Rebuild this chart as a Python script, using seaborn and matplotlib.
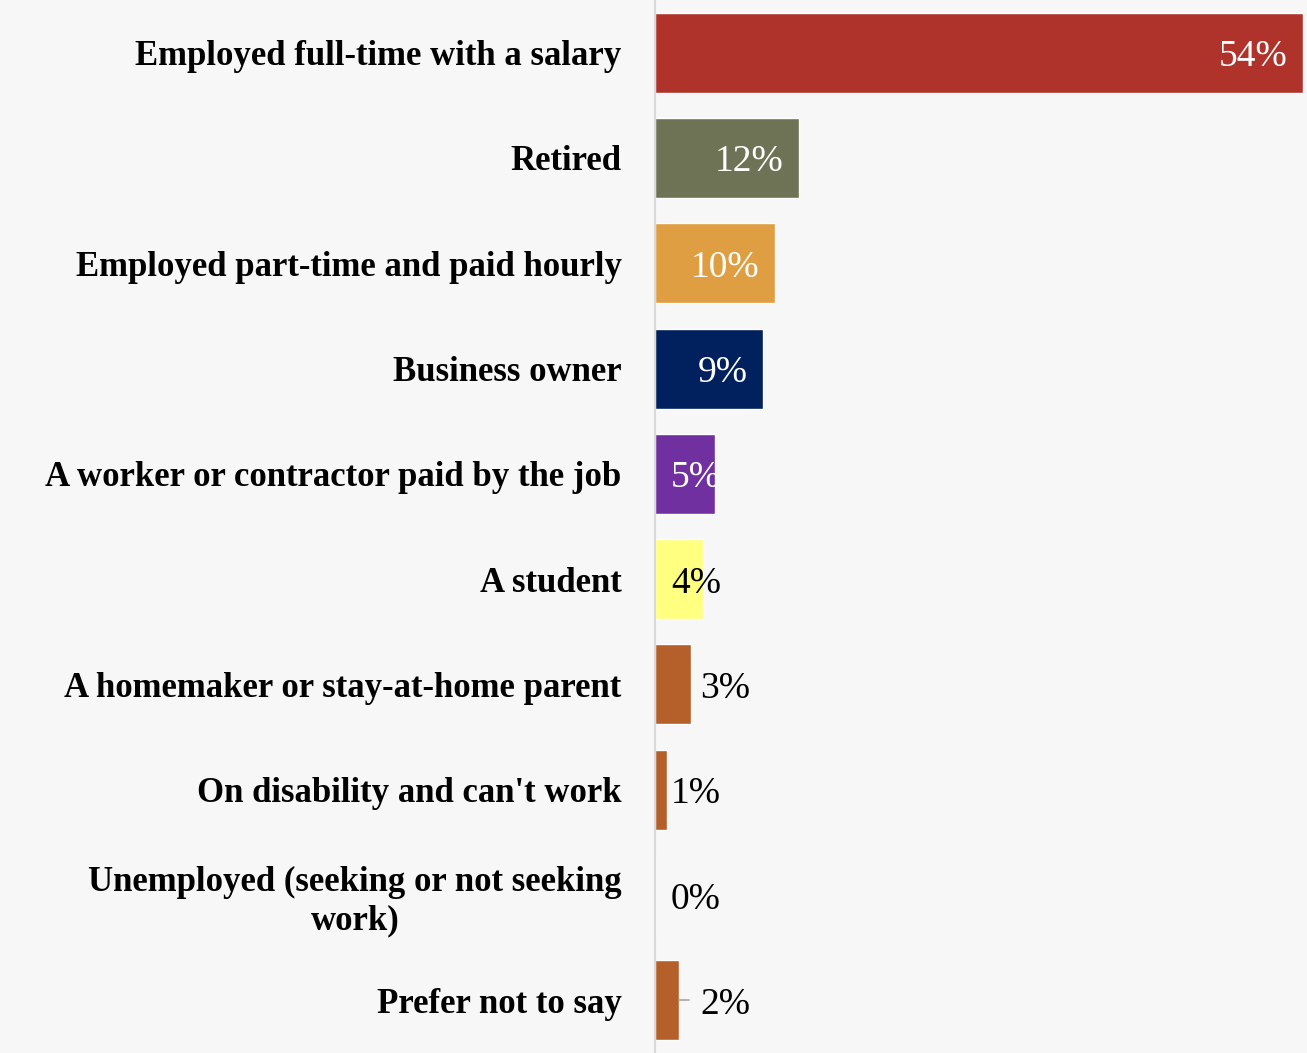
import matplotlib
matplotlib.use("Agg")
import matplotlib.pyplot as plt
import seaborn as sns
import pandas as pd

categories = [
    "Employed full-time with a salary",
    "Retired",
    "Employed part-time and paid hourly",
    "Business owner",
    "A worker or contractor paid by the job",
    "A student",
    "A homemaker or stay-at-home parent",
    "On disability and can't work",
    "Unemployed (seeking or not seeking\nwork)",
    "Prefer not to say",
]
values = [54, 12, 10, 9, 5, 4, 3, 1, 0, 2]
colors = ["#b0332b", "#6e7356", "#e09e42", "#00205e", "#7030a0",
          "#ffff80", "#b5602b", "#b5602b", "#b5602b", "#b5602b"]
value_colors = ["white", "white", "white", "white", "white",
                "black", "black", "black", "black", "black"]

df = pd.DataFrame({"category": categories, "value": values})

sns.set_style("white")
plt.rcParams["font.family"] = ["Liberation Serif", "DejaVu Serif"]

bg = "#f7f7f7"
fig = plt.figure(figsize=(13.07, 10.53), dpi=100, facecolor=bg)
ax = fig.add_axes([655 / 1307, 0, 652 / 1307, 1])
ax.set_facecolor(bg)

sns.barplot(data=df, y="category", x="value", hue="category",
            palette=colors, dodge=False, legend=False, width=0.76,
            saturation=1, ax=ax)

ax.set_xlim(0, 54.3)
ax.set_ylim(len(categories) - 0.5, -0.5)
ax.set_xlabel("")
ax.set_ylabel("")
ax.set_xticks([])
for s in ["top", "right", "bottom"]:
    ax.spines[s].set_visible(False)
ax.spines["left"].set_color("#d9d9d9")
ax.spines["left"].set_linewidth(1.5)

ax.tick_params(axis="y", length=0, pad=24)
for lbl in ax.get_yticklabels():
    lbl.set_fontsize(25)
    lbl.set_fontweight("bold")
    lbl.set_color("black")
    lbl.set_multialignment("center")

# value labels
for i, (v, c) in enumerate(zip(values, value_colors)):
    txt = f"{v}%"
    y = i + 0.04
    if v >= 9:
        ax.text(v - 1.3, y, txt, ha="right", va="center", color=c, fontsize=27)
    elif v in (3, 2):
        ax.text(3.75, y, txt, ha="left", va="center", color=c, fontsize=27)
    else:
        ax.text(1.33, y, txt, ha="left", va="center", color=c, fontsize=27)

# small leader line for the last bar
ax.plot([values[-1], values[-1] + 0.85], [9, 9], color="#a6a6a6", lw=1.2)

fig.savefig("out.png", dpi=100, facecolor=bg)
